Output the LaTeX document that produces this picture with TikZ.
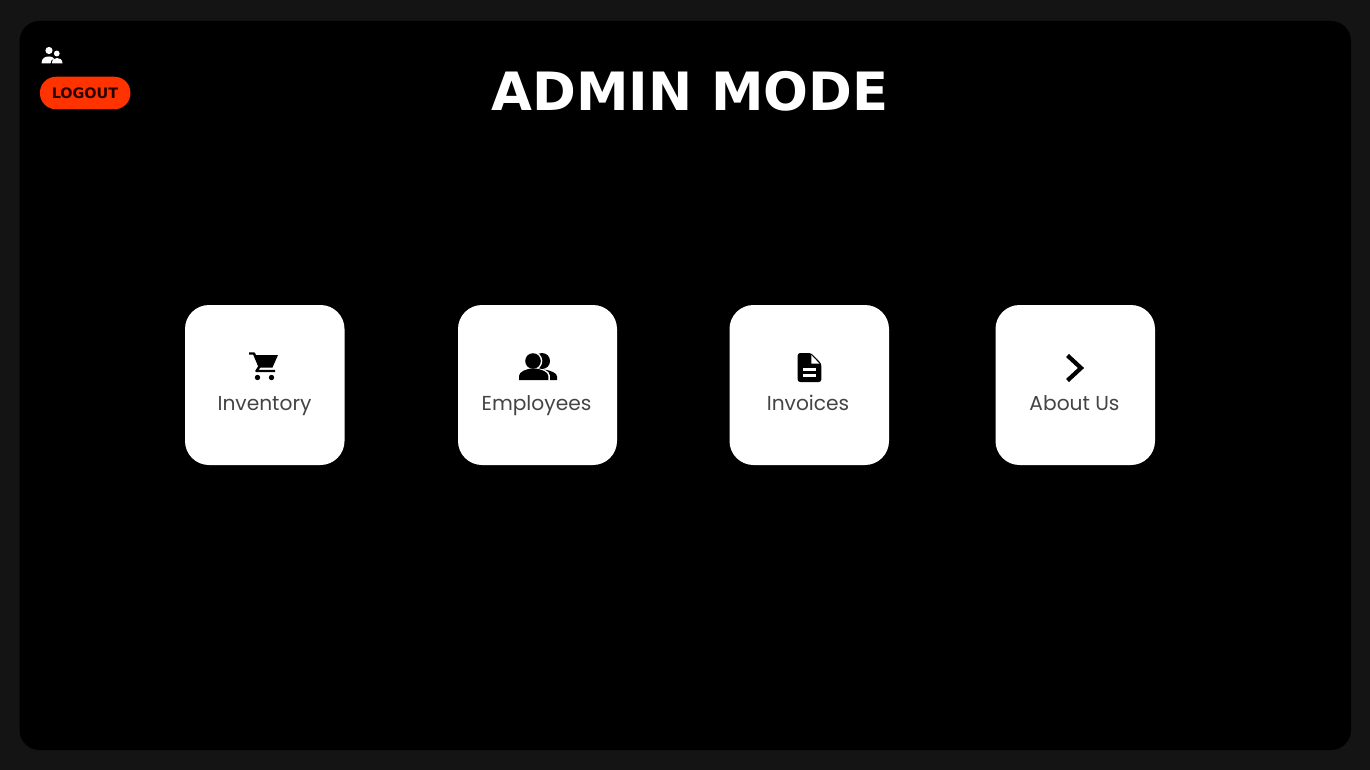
\documentclass[tikz,border=0pt]{standalone}
\usepackage{fontspec}
\setmainfont{Poppins}
\newfontfamily\dejavu{DejaVu Sans}
\definecolor{pagebg}{HTML}{141414}
\definecolor{logoutred}{HTML}{FF3300}
\definecolor{labelgrey}{HTML}{444444}
\tikzset{
  x=1pt,y=-1pt,
  card/.style={fill=white,rounded corners=24pt,draw=none},
  cardlabel/.style={text=labelgrey,font=\fontsize{20.2}{24}\selectfont,inner sep=0pt,anchor=base},
  icon/.style={fill=black,draw=none},
}
\begin{document}
\begin{tikzpicture}
\useasboundingbox (0,0) rectangle (1370,770);
\fill[pagebg] (0,0) rectangle (1370,770);
\fill[black,rounded corners=20pt] (19.5,21) rectangle (1351,750);
% title
\node[text=white,inner sep=0pt,anchor=base,font=\dejavu\bfseries\fontsize{52.8}{60}\selectfont] (title) at (690,111) {ADMIN MODE};
% user icon
\fill[white] (49,50.5) circle (3.6);
\fill[white] (56.8,53.5) circle (2.9);
\fill[white] (41.5,63.5) .. controls (41.5,58) and (45,56.5) .. (49,56.5) .. controls (51.5,56.5) and (53,57) .. (54,58.5) .. controls (51.5,59.5) and (50.5,61) .. (50.5,63.5) -- cycle;
\fill[white] (52,63.5) .. controls (52,59.5) and (54,58) .. (57,58) .. controls (60,58) and (62.5,59.5) .. (62.5,63.5) -- cycle;
% logout
\node[fill=logoutred,rounded corners=16pt,minimum width=90.5pt,minimum height=32.5pt,inner sep=0pt] (logout) at (85.2,93) {};
\node[inner sep=0pt,anchor=base,font=\dejavu\bfseries\fontsize{14.4}{18}\selectfont,text=black!85!red] (logouttext) at (85,99) {LOGOUT};
% cards
\fill[card] (185,305) rectangle (344.5,465);
\fill[card] (458,305) rectangle (617,465);
\fill[card] (729.5,305) rectangle (889,465);
\fill[card] (995.5,305) rectangle (1155,465);
\node[cardlabel] (inv) at (264.5,410) {Inventory};
\node[cardlabel] (emp) at (536.5,410) {Employees};
\node[cardlabel] (invo) at (808,410) {Invoices};
\node[cardlabel] (abt) at (1074.5,410) {About Us};
% cart
\draw[black,line width=2.4pt,line join=round] (249,353.5) -- (254,353.5) -- (259.5,366.5) -- (256.5,371) -- (275,371);
\fill[icon] (254,355) -- (278,355) -- (272.5,367.5) -- (259,367.5) -- cycle;
\fill[icon] (257.5,377.5) circle (2.7);
\fill[icon] (271.5,377.5) circle (2.7);
% employees
\fill[icon] (542,361) circle (8);
\fill[white] (533,361) circle (9.3);
\fill[icon] (533,361) circle (7.8);
\fill[icon] (544,369.5) .. controls (551,370.5) and (557,373) .. (557,376.5) -- (557,380) -- (550,380) -- (550,375.5) .. controls (550,373) and (548,371) .. (544,369.5) -- cycle;
\fill[icon] (519,380) -- (519,376) .. controls (519,372) and (526,368.5) .. (533.5,368.5) .. controls (541,368.5) and (548.3,372) .. (548.3,376) -- (548.3,380) -- cycle;
% invoice
\fill[icon,rounded corners=2.5pt] (797.7,353) -- (811,353) -- (821.3,363.5) -- (821.3,382) -- (797.7,382) -- cycle;
\fill[white] (811.3,355) -- (819.3,363.5) -- (811.3,363.5) -- cycle;
\fill[white] (803,368) rectangle (815.5,371);
\fill[white] (803,373.5) rectangle (815.5,376.5);
% chevron
\draw[black,line width=4.2pt] (1067.5,355.5) -- (1081,368) -- (1067.5,380.5);
\end{tikzpicture}
\end{document}
